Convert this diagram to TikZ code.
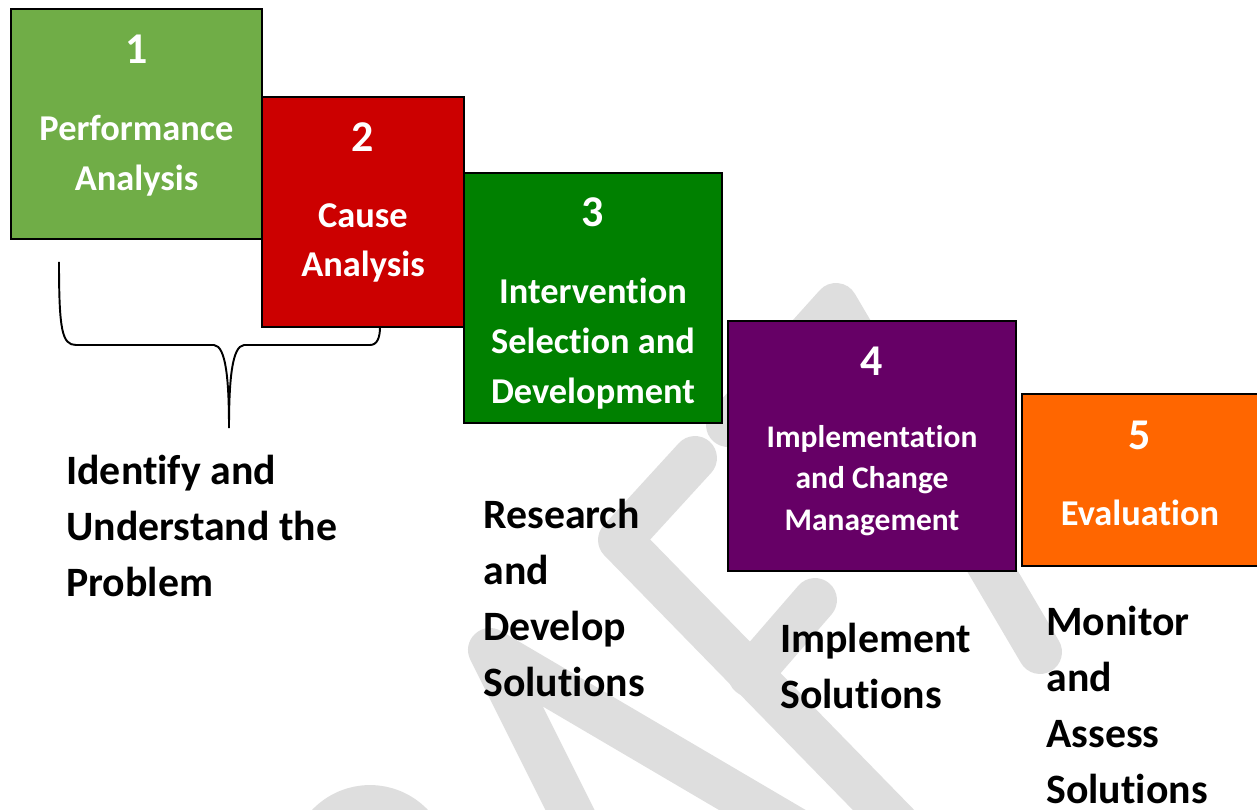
\documentclass[tikz,border=0pt]{standalone}
\usepackage{fontspec}
\setmainfont{Carlito}[Ligatures=NoCommon]
\usetikzlibrary{positioning}
\definecolor{perfgreen}{HTML}{70AD47}
\definecolor{causered}{HTML}{CC0000}
\definecolor{intgreen}{HTML}{008000}
\definecolor{implpurple}{HTML}{660066}
\definecolor{evalorange}{HTML}{FF6600}
\definecolor{wmgray}{HTML}{DEDEDE}
\tikzset{
  stage/.style={rectangle,draw=black,line width=1pt,inner sep=0pt},
  stagenum/.style={text=white,inner sep=0pt,font=\bfseries\fontsize{25}{30}\selectfont},
  stagetxt/.style={text=white,align=center,inner sep=0pt,
                   font=\bfseries\fontsize{20.7}{28.3}\selectfont},
  smalltxt/.style={stagetxt,font=\bfseries\fontsize{17.9}{23.8}\selectfont},
  outcome/.style={align=left,anchor=west,inner sep=0pt,
                  font=\bfseries\fontsize{23.8}{31.8}\selectfont},
  wmark/.style={draw=wmgray,line width=25pt,line cap=round,line join=round},
  brace/.style={draw=black,line width=1.1pt},
}
\begin{document}
\begin{tikzpicture}[x=0.02cm,y=-0.02cm]
    \useasboundingbox (0,0) rectangle (1257,810);

    % watermark
    \draw[wmark] (1040,652) -- (836,305) -- (728,425);
    \draw[wmark] (695,458) -- (620,540) -- (905,832);
    \draw[wmark] (750,675) -- (815,600);
    \draw[wmark] (580,830) -- (490,650) -- (810,838);
    \draw[wmark] (312,865) arc[start angle=180,end angle=0,radius=1.16cm];

    % stages
    \node[stage,fill=perfgreen,minimum width=5.02cm,minimum height=4.6cm]  (S1) at (136.5,124) {};
    \node[stage,fill=causered,minimum width=4.04cm,minimum height=4.6cm]   (S2) at (363,212) {};
    \node[stage,fill=intgreen,minimum width=5.16cm,minimum height=5cm]     (S3) at (593,298) {};
    \node[stage,fill=implpurple,minimum width=5.76cm,minimum height=5cm]   (S4) at (872,446) {};
    \node[stage,fill=evalorange,minimum width=4.72cm,minimum height=3.44cm] (S5) at (1140,480) {};

    \node[stagenum] (N1) at ([yshift=-0.82cm]S1.north) {1};
    \node[stagenum] (N2) at ([yshift=-0.82cm]S2.north) {2};
    \node[stagenum] (N3) at ([yshift=-0.8cm]S3.north)  {3};
    \node[stagenum] (N4) at ([yshift=-0.82cm]S4.north) {4};
    \node[stagenum] (N5) at ([yshift=-0.84cm]S5.north) {5};

    \node[stagetxt] (T1) at ([yshift=-0.64cm]S1.center) {Performance\\Analysis};
    \node[stagetxt] (T2) at ([yshift=-0.62cm]S2.center) {Cause\\Analysis};
    \node[stagetxt] (T3) at ([yshift=-0.91cm]S3.center) {Intervention\\Selection and\\Development};
    \node[smalltxt] (T4) at ([yshift=-0.69cm]S4.center) {Implementation\\and Change\\Management};
    \node[stagetxt] (T5) at ([yshift=-0.66cm]S5.center) {Evaluation};

    % brace under stages 1 and 2
    \coordinate (BL) at (59,262);
    \coordinate (BT) at (229,428);
    \coordinate (BR) at (380,327);
    \draw[brace] (BL) .. controls (59,330) and (62,345) .. (76,345) -- (214,345)
          .. controls (226,346) and (229,380) .. (BT)
          .. controls (229,380) and (232,346) .. (244,345) -- (370,345)
          .. controls (377,345) and (380,338) .. (BR);

    % outcomes
    \node[outcome] (O1) at (66,526)  {Identify and\\Understand the\\Problem};
    \node[outcome] (O2) at (483,598) {Research\\and\\Develop\\Solutions};
    \node[outcome] (O3) at (780,666) {Implement\\Solutions};
    \node[outcome] (O4) at (1046,705) {Monitor\\and\\Assess\\Solutions};
\end{tikzpicture}
\end{document}
